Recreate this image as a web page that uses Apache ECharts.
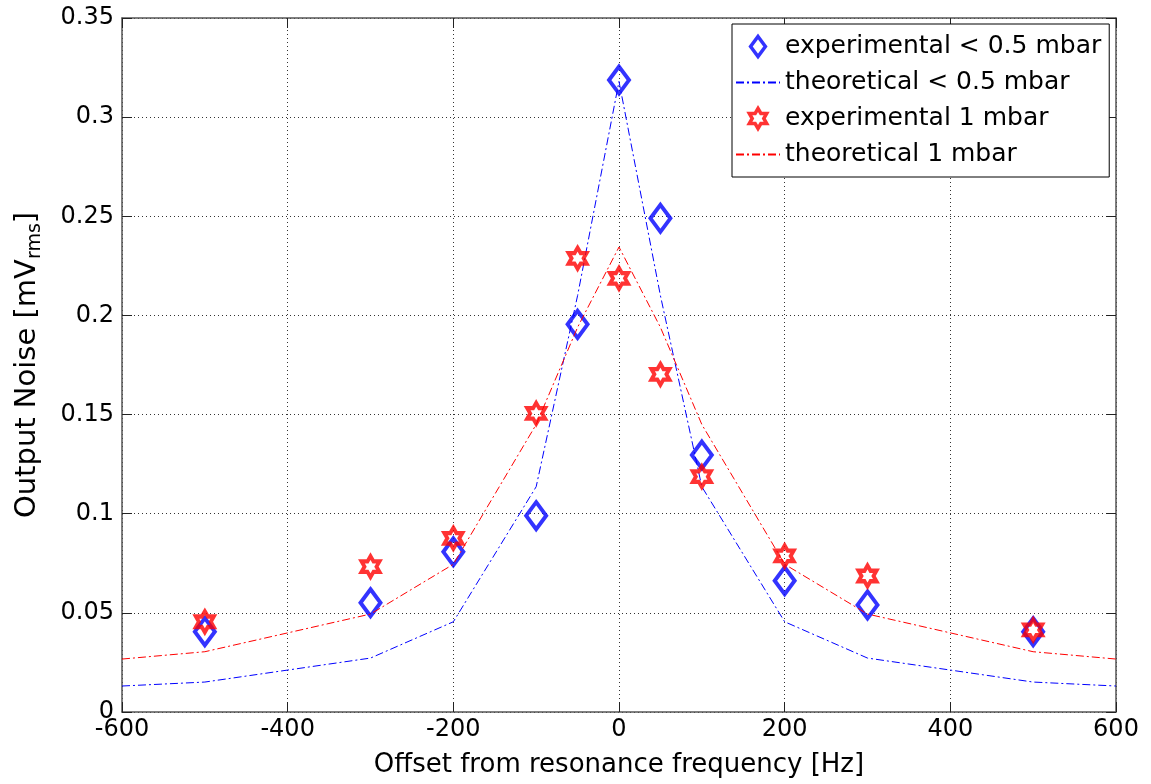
<!DOCTYPE html>
<html><head><meta charset="utf-8">
<script src="https://cdn.jsdelivr.net/npm/echarts@6/dist/echarts.min.js"></script>
<style>html,body{margin:0;padding:0;background:#fff}#c{width:1151px;height:784px}</style>
</head><body><div id="c"></div>
<script>
const expX = [-500, -300, -200, -100, -50, 0, 50, 100, 200, 300, 500];
const expLow = [0.0405, 0.0551, 0.0808, 0.099, 0.1955, 0.3187, 0.249, 0.1296, 0.0662, 0.054, 0.0405];
const exp1 = [0.0455, 0.0733, 0.0876, 0.1506, 0.2288, 0.2187, 0.1703, 0.1187, 0.0787, 0.0686, 0.0414];
const thX = [-600, -500, -300, -200, -100, -50, 0, 50, 100, 200, 300, 500, 600];
const thLow = [0.0131, 0.0151, 0.0272, 0.0455, 0.1136, 0.21, 0.318, 0.21, 0.1136, 0.0455, 0.0272, 0.0151, 0.0131];
const th1 = [0.0267, 0.0304, 0.0494, 0.0745, 0.145, 0.194, 0.2345, 0.194, 0.145, 0.0745, 0.0494, 0.0304, 0.0267];
const names = ['experimental < 0.5 mbar', 'theoretical < 0.5 mbar', 'experimental 1 mbar', 'theoretical 1 mbar'];

const pair = (xs, ys) => xs.map((x, i) => [x, ys[i]]);
const FONT = 'DejaVu Sans';
const hexagram = 'path://M100,0L128.9,50L186.6,50L157.7,100L186.6,150L128.9,150L100,200L71.1,150L13.4,150L42.3,100L13.4,50L71.1,50Z';
const diamond = 'path://M74,0L148,100L74,200L0,100Z';
const dashDot = [8, 3, 2, 3];

const chart = echarts.init(document.getElementById('c'), null, {renderer: 'canvas'});
const gridLine = {show: true, lineStyle: {color: '#333', type: [1, 3], width: 1}};
const axLine = {show: true, onZero: false, lineStyle: {color: '#555', width: 1.5}};
const tick = {show: true, inside: true, length: 10, lineStyle: {color: '#222', width: 1}};
chart.setOption({
  animation: false,
  backgroundColor: '#fff',
  textStyle: {fontFamily: FONT},
  grid: {left: 122, right: 35, top: 18, bottom: 72, containLabel: false},
  legend: {
    orient: 'vertical', left: 732, top: 24,
    data: [
      {name: names[0], icon: diamond, itemStyle: {color: 'rgba(255,255,255,0)', borderColor: '#0000ff', borderWidth: 3.5}},
      {name: names[1], itemStyle: {opacity: 0}},
      {name: names[2], icon: hexagram, itemStyle: {color: 'rgba(255,255,255,0)', borderColor: '#ff0000', borderWidth: 3.5}},
      {name: names[3], itemStyle: {opacity: 0}}
    ],
    backgroundColor: '#fff', borderColor: '#000', borderWidth: 1,
    padding: [10, 8, 10, 3],
    itemWidth: 44, itemHeight: 20, itemGap: 11,
    textStyle: {fontFamily: FONT, fontSize: 25, color: '#000'}
  },
  xAxis: [{
    type: 'value', min: -600, max: 600, interval: 200, position: 'bottom',
    name: 'Offset from resonance frequency [Hz]', nameLocation: 'middle', nameGap: 40,
    nameTextStyle: {fontFamily: FONT, fontSize: 26, color: '#000'},
    axisLine: axLine, axisTick: tick, splitLine: gridLine,
    axisLabel: {fontFamily: FONT, fontSize: 24, color: '#000', margin: 6}
  }, {
    type: 'value', min: -600, max: 600, interval: 200, position: 'top',
    axisLine: axLine, axisTick: tick, splitLine: {show: false}, axisLabel: {show: false}
  }],
  yAxis: [{
    type: 'value', min: 0, max: 0.35, interval: 0.05, position: 'left',
    name: '{a|Output Noise [mV}{s|rms}{a|]}', nameLocation: 'middle', nameGap: 77,
    nameTextStyle: {fontFamily: FONT, color: '#000', rich: {
      a: {fontFamily: FONT, fontSize: 29, color: '#000'},
      s: {fontFamily: FONT, fontSize: 19, color: '#000', padding: [16, 0, 0, 0]}
    }},
    axisLine: axLine, axisTick: tick, splitLine: gridLine,
    axisLabel: {fontFamily: FONT, fontSize: 24, color: '#000', margin: 8}
  }, {
    type: 'value', min: 0, max: 0.35, interval: 0.05, position: 'right',
    axisLine: axLine, axisTick: tick, splitLine: {show: false}, axisLabel: {show: false}
  }],
  series: [
    {name: names[0], type: 'scatter', data: pair(expX, expLow), symbol: diamond, symbolSize: [20, 27],
     itemStyle: {color: 'rgba(255,255,255,0)', borderColor: '#0000ff', borderWidth: 4}, z: 3},
    {name: names[1], type: 'line', data: pair(thX, thLow), symbol: 'none', showSymbol: false,
     lineStyle: {color: '#0000ff', width: 1, type: dashDot}, itemStyle: {color: '#0000ff'}, z: 4},
    {name: names[2], type: 'scatter', data: pair(expX, exp1), symbol: hexagram, symbolSize: [18, 21],
     itemStyle: {color: 'rgba(255,255,255,0)', borderColor: '#ff0000', borderWidth: 4}, z: 5},
    {name: names[3], type: 'line', data: pair(thX, th1), symbol: 'none', showSymbol: false,
     lineStyle: {color: '#ff0000', width: 1, type: dashDot}, itemStyle: {color: '#ff0000'}, z: 6}
  ]
});
</script></body></html>
